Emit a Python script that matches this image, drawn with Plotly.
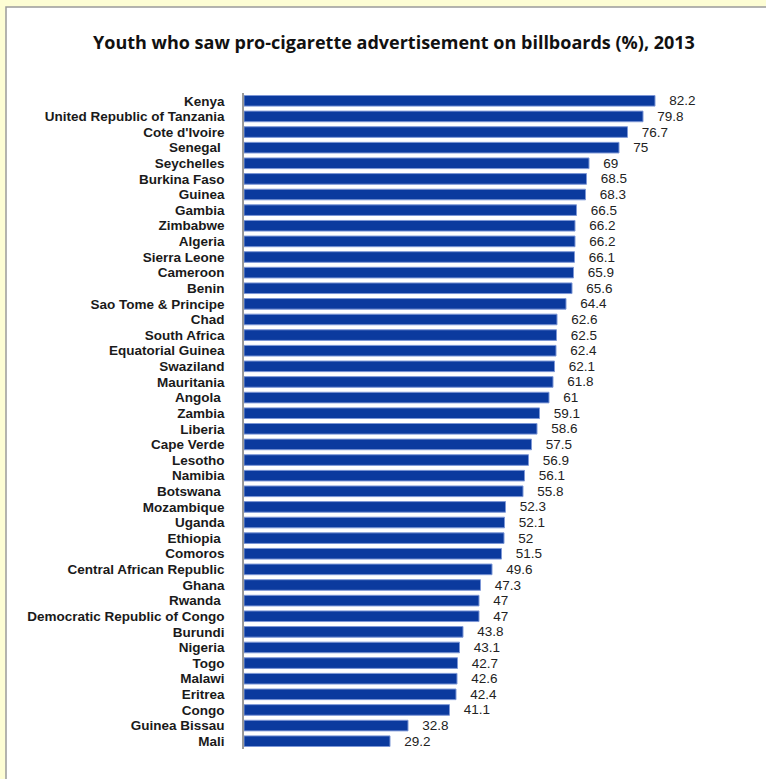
import plotly.graph_objects as go

countries = ["Kenya", "United Republic of Tanzania", "Cote d'Ivoire", "Senegal ", "Seychelles",
             "Burkina Faso", "Guinea", "Gambia", "Zimbabwe", "Algeria", "Sierra Leone",
             "Cameroon", "Benin", "Sao Tome & Principe", "Chad", "South Africa",
             "Equatorial Guinea", "Swaziland", "Mauritania", "Angola ", "Zambia", "Liberia",
             "Cape Verde", "Lesotho", "Namibia", "Botswana ", "Mozambique", "Uganda",
             "Ethiopia ", "Comoros", "Central African Republic", "Ghana", "Rwanda ",
             "Democratic Republic of Congo", "Burundi", "Nigeria", "Togo", "Malawi",
             "Eritrea", "Congo", "Guinea Bissau", "Mali"]
values = [82.2, 79.8, 76.7, 75, 69, 68.5, 68.3, 66.5, 66.2, 66.2, 66.1, 65.9, 65.6, 64.4,
          62.6, 62.5, 62.4, 62.1, 61.8, 61, 59.1, 58.6, 57.5, 56.9, 56.1, 55.8, 52.3, 52.1,
          52, 51.5, 49.6, 47.3, 47, 47, 43.8, 43.1, 42.7, 42.6, 42.4, 41.1, 32.8, 29.2]
title_text = "Youth who saw pro-cigarette advertisement on billboards (%), 2013"

TITLE_FONT = "Open Sans"
FONT = "Liberation Sans"
W, H = 766, 779
ML, MR, MT, MB = 244, 66, 93, 30
pw, ph = W - ML - MR, H - MT - MB

fig = go.Figure(go.Bar(
    x=values, y=countries, orientation="h",
    marker=dict(color="#0B3A9E", line=dict(color="#7D97D6", width=1)),
    text=["\u00a0\u00a0\u00a0" + f"{v:g}" for v in values],
    textposition="outside", constraintext="none", cliponaxis=False,
    textfont=dict(family=FONT, size=13.5, color="#222"),
    hoverinfo="x+y",
))

def px2x(px):
    return (px - ML) / pw

def py2y(py):
    return (H - MB - py) / ph

annotations = [dict(x=px2x(394), y=py2y(42), xref="paper", yref="paper",
                    text=title_text, showarrow=False, xanchor="center", yanchor="middle",
                    font=dict(family=TITLE_FONT, size=18, color="#111", weight="bold"))]

shapes = [dict(type="rect", xref="paper", yref="paper", layer="below",
               x0=px2x(6), x1=px2x(790), y0=py2y(800), y1=py2y(7),
               fillcolor="white", line=dict(color="#9a9a9a", width=1.5))]

fig.update_layout(
    width=W, height=H,
    margin=dict(l=ML, r=MR, t=MT, b=MB, autoexpand=False),
    paper_bgcolor="#FDFDD4",
    plot_bgcolor="rgba(0,0,0,0)",
    bargap=0.32,
    showlegend=False,
    annotations=annotations,
    shapes=shapes,
    xaxis=dict(range=[0, pw / 5.0], visible=False, fixedrange=True, automargin=False),
    yaxis=dict(autorange="reversed", showline=True, linecolor="#999", linewidth=1.5,
               automargin=False, tickmode="array", tickvals=countries, ticktext=countries,
               ticks="outside", ticklen=15, tickcolor="rgba(0,0,0,0)",
               tickfont=dict(family=FONT, size=13.5, color="#1a1a1a", weight="bold"),
               showgrid=False, zeroline=False),
)

fig.write_html("out.html", config={"displayModeBar": False},
               post_script="document.body.style.margin='0px';")
